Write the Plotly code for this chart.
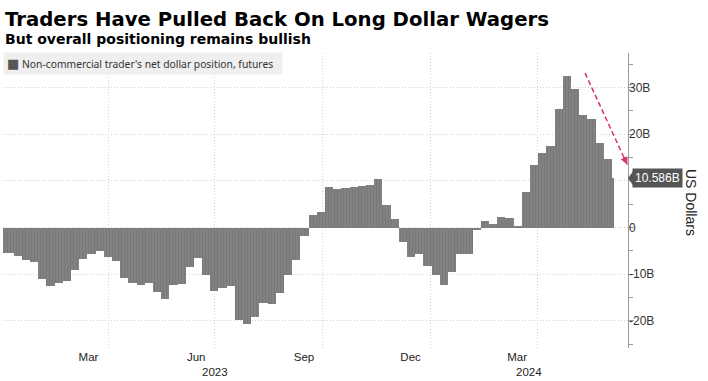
import pandas as pd
import plotly.graph_objects as go

# ---------------- data ----------------
title_text = "Traders Have Pulled Back On Long Dollar Wagers"
subtitle_text = "But overall positioning remains bullish"
series_name = "Non-commercial trader's net dollar position, futures"

# weekly CFTC report dates (Tuesdays)
week_start = pd.date_range("2022-12-27", periods=76, freq="7D")
net_position_bn = [
    -5.5, -5.5, -6.0, -6.9, -7.4, -11.0, -12.6, -11.9, -11.5, -9.1,
    -6.7, -5.6, -5.0, -6.3, -7.1, -10.7, -11.9, -12.4, -11.9, -13.9,
    -15.3, -12.3, -12.0, -8.4, -6.6, -10.2, -13.5, -13.0, -12.6, -19.9,
    -20.6, -19.1, -16.2, -16.4, -14.1, -10.1, -6.9, -1.7, 2.6, 3.3,
    8.6, 8.3, 8.5, 8.8, 9.0, 9.1, 10.4, 4.9, 1.8, -3.0,
    -6.4, -5.7, -8.2, -10.1, -12.3, -9.6, -5.7, -5.7, -0.5, 1.4,
    0.7, 2.3, 2.1, 0.3, 7.6, 13.5, 16.0, 17.4, 25.3, 32.4,
    29.6, 24.2, 23.3, 18.1, 14.6, 10.586,
]
last_label = "10.586B"

month_tick_dates = ["2023-03-15", "2023-06-15", "2023-09-15", "2023-12-15", "2024-03-15"]
month_tick_labels = ["Mar", "Jun", "Sep", "Dec", "Mar"]
year_label_dates = ["2023-07-01", "2024-03-25"]
year_labels = ["2023", "2024"]
grid_dates = ["2023-04-01", "2023-07-01", "2023-10-01", "2024-01-01", "2024-04-01"]

y_tick_vals = [-20, -10, 0, 10, 20, 30]
y_tick_text = ["-20B", "-10B", "0", "", "20B", "30B"]  # 10B sits under the last-value tag

x_range = ["2023-01-01", "2024-06-17 16:00"]
y_range = [-25.8, 37.4]

trend_arrow_x = ["2024-05-12", "2024-06-17"]
trend_arrow_y = [33.1, 13.5]

# ---------------- figure ----------------
DAY_MS = 24 * 3600 * 1000
widths = [7 * DAY_MS] * (len(net_position_bn) - 1) + [2 * DAY_MS]

GRID = "#d2d2d2"
AXIS = "#9a9a9a"

fig = go.Figure()
fig.add_trace(go.Bar(
    x=week_start, y=net_position_bn, width=widths, offset=0,
    marker=dict(color="#b4b4b4", line=dict(width=0),
                pattern=dict(shape="|", fgcolor="#3c3c3c", bgcolor="#b4b4b4",
                             size=3, solidity=0.9)),
    name=series_name, showlegend=False, hoverinfo="x+y",
))
# same series on the label axis (draws nothing; lets the label axis render)
fig.add_trace(go.Scatter(
    x=week_start, y=net_position_bn, yaxis="y2", mode="none",
    showlegend=False, hoverinfo="skip",
))

fig.update_layout(
    width=708, height=381,
    margin=dict(l=3, r=80, t=53, b=33),
    paper_bgcolor="white", plot_bgcolor="white",
    bargap=0,
    font=dict(family="Liberation Sans, Arial, sans-serif", color="#222"),
    xaxis=dict(
        type="date", range=x_range,
        tickmode="array", tickvals=month_tick_dates, ticktext=month_tick_labels,
        showgrid=False, ticks="", showline=False, zeroline=False,
        tickfont=dict(size=11.5, color="#222"),
        minor=dict(tickmode="array", tickvals=grid_dates, showgrid=True,
                   gridcolor=GRID, griddash="1px,2px", gridwidth=1, ticks=""),
    ),
    # axis carrying line, tick marks and grid
    yaxis=dict(
        side="right", range=y_range,
        tickmode="array", tickvals=y_tick_vals, showticklabels=False,
        showgrid=True, gridcolor=GRID, griddash="1px,2px", gridwidth=1,
        zeroline=False, showline=True, linecolor=AXIS, linewidth=1,
        ticks="outside", ticklen=5, tickcolor=AXIS, tickwidth=1,
        minor=dict(dtick=5, ticks="outside", ticklen=4, tickcolor=AXIS, showgrid=False),
    ),
    # overlay axis carrying the labels, set close to the axis line
    yaxis2=dict(
        overlaying="y", side="right", range=y_range,
        tickmode="array", tickvals=y_tick_vals, ticktext=y_tick_text,
        showgrid=False, zeroline=False, showline=False, ticks="",
        tickfont=dict(size=12, color="#333"),
    ),
)

annotations = [
    dict(text="<b>" + title_text + "</b>", xref="paper", yref="paper", x=0, y=1,
         xanchor="left", yanchor="bottom", xshift=0, yshift=20, showarrow=False,
         font=dict(family="DejaVu Sans", size=19.7, color="#000")),
    dict(text="<b>" + subtitle_text + "</b>", xref="paper", yref="paper", x=0, y=1,
         xanchor="left", yanchor="bottom", xshift=0, yshift=4, showarrow=False,
         font=dict(family="DejaVu Sans", size=14, color="#000")),
    dict(text="<span style='color:#555;font-size:13px;font-family:DejaVu Sans'>■</span> "
              + series_name + "&nbsp;&nbsp;",
         xref="paper", yref="paper", x=0, y=1, xanchor="left", yanchor="top",
         yshift=1, showarrow=False, bgcolor="#efefef", borderpad=3, align="left",
         font=dict(family="Noto Sans", size=10.3, color="#333")),
    dict(text="US Dollars", xref="paper", yref="paper", x=1, y=0.495, xshift=63,
         xanchor="center", yanchor="middle", textangle=90, showarrow=False,
         font=dict(size=14, color="#222")),
    dict(text=last_label, xref="paper", yref="y", x=1, y=net_position_bn[-1],
         xanchor="left", yanchor="middle", xshift=4, showarrow=False,
         bgcolor="#555555", borderpad=2, font=dict(size=12, color="white")),
    dict(text="", xref="x", yref="y", x=trend_arrow_x[1], y=trend_arrow_y[1],
         ax=-4, ay=-9, showarrow=True, arrowhead=2, arrowsize=1, arrowwidth=1.5,
         arrowcolor="#d7385e", standoff=0),
]
for d, lab in zip(year_label_dates, year_labels):
    annotations.append(dict(text=lab, xref="x", yref="paper", x=d, y=0,
                            xanchor="center", yanchor="top", yshift=-16,
                            showarrow=False, font=dict(size=11.5, color="#222")))
fig.update_layout(annotations=annotations)

fig.add_shape(type="path", xref="paper", yref="y", xsizemode="pixel", xanchor=1,
              ysizemode="pixel", yanchor=net_position_bn[-1],
              path="M 0,0 L 5,-7 L 5,7 Z", fillcolor="#555555", line=dict(width=0))
fig.add_shape(type="line", xref="x", yref="y",
              x0=trend_arrow_x[0], y0=trend_arrow_y[0], x1=trend_arrow_x[1], y1=trend_arrow_y[1],
              line=dict(color="#d7385e", width=1.5, dash="5px,3px"))

fig.write_html("out.html",
               config={"displayModeBar": False},
               post_script="document.body.style.margin='0';document.body.style.padding='0';")
